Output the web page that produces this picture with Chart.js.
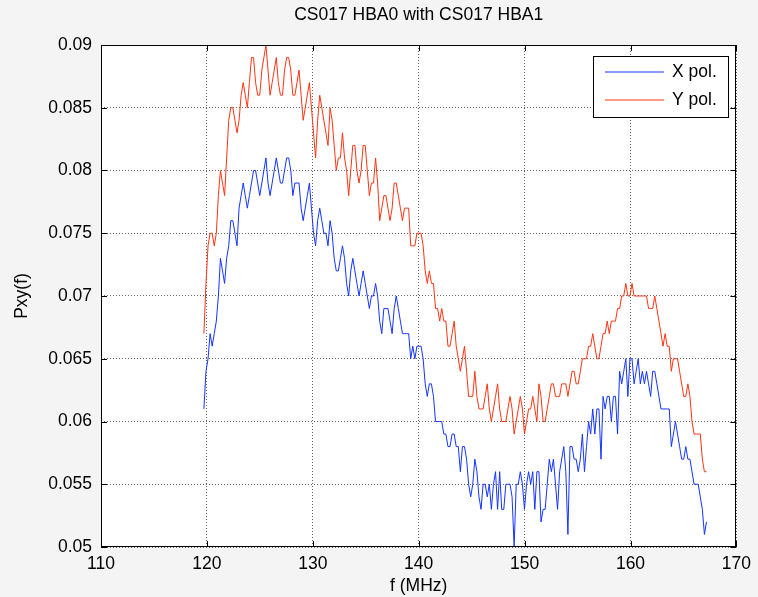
<!DOCTYPE html>
<html>
<head>
<meta charset="utf-8">
<script src="https://cdn.jsdelivr.net/npm/chart.js@4.4.1/dist/chart.umd.min.js"></script>
<style>
    html, body { margin: 0; padding: 0; background: #f4f4f4; }
    #wrap { width: 758px; height: 597px; }
</style>
</head>
<body>
<div id="wrap"><canvas id="chart" width="758" height="597"></canvas></div>
<script>
// subband frequencies (MHz): first subband and spacing
const F_START = 119.717;
const F_STEP = 0.1953;

// Pxy(f), in units of 0.001
const xPol = [
    61,64,65,67,66,67,68,70,73,72,
    71,73,74,76,76,75,74,77,78,79,
    78,77,78,79,80,80,79,78,79,80,
    81,79,78,79,80,81,80,79,79,80,
    81,81,80,78,79,79,79,77,76,77,
    78,79,77,75,74,76,77,76,75,75,
    74,76,75,73,72,72,73,74,73,71,
    70,72,73,72,71,70,71,72,71,70,
    69,70,70,71,70,68,67,69,69,69,
    68,67,69,70,69,68,67,67,67,67,
    65,66,65,66,66,66,65,63,62,63,
    63,62,60,60,60,60,59,59,58,58,
    59,59,58,58,56,58,58,57,55,54,
    55,57,56,54,53,55,55,54,55,53,
    55,56,53,56,53,53,55,55,55,54,
    50,55,55,56,55,53,55,56,55,56,
    53,56,56,52,53,53,55,57,56,57,
    55,53,56,57,58,56,51,58,58,57,
    57,56,57,59,56,58,60,59,61,59,
    61,61,57,62,61,62,62,60,62,62,
    59,64,63,64,65,62,65,65,63,64,
    65,63,64,63,64,63,62,64,64,63,
    62,61,61,61,61,61,58,59,60,59,
    58,57,57,58,57,57,56,55,55,55,
    54,53,51,52
];

const yPol = [
    67,71,74,75,75,74,75,78,80,79,
    78,81,84,85,85,84,83,84,86,87,
    86,85,87,89,89,87,86,86,88,89,
    90,88,86,87,88,89,87,86,86,88,
    89,89,88,86,86,87,88,86,84,85,
    86,87,85,83,81,84,86,85,84,83,
    82,85,84,82,80,81,81,83,81,80,
    78,80,82,82,80,79,80,82,82,80,
    78,79,79,81,79,76,77,78,78,77,
    76,77,79,79,78,77,76,77,77,77,
    74,74,74,75,75,75,74,72,71,72,
    71,71,69,69,68,69,68,68,66,66,
    67,68,66,65,64,65,66,64,62,62,
    62,64,62,61,61,61,62,63,61,60,
    61,62,63,61,60,60,60,61,62,61,
    59,60,61,62,61,59,60,61,61,62,
    61,60,63,62,60,60,61,62,63,63,
    62,62,62,63,63,63,62,63,64,64,
    63,63,64,65,65,65,66,66,67,66,
    65,65,66,67,67,68,67,68,68,68,
    69,69,70,70,71,70,70,71,70,70,
    70,70,70,70,70,69,69,69,70,69,
    68,67,66,67,66,66,64,65,65,65,
    64,63,62,62,63,62,60,59,59,59,
    59,57,56,56
];

const xTicks = [110, 120, 130, 140, 150, 160, 170];
const yTicks = [0.05, 0.055, 0.06, 0.065, 0.07, 0.075, 0.08, 0.085, 0.09];

const TITLE = 'CS017 HBA0 with CS017 HBA1';
const seriesLabels = ['X pol.', 'Y pol.'];
const seriesColors = ['#1434ff', '#ff3412'];

const FONT = '"Liberation Sans", Arial, Helvetica, sans-serif';
const FONT_SIZE = 17.5;

function toPoints(vals) {
    return vals.map((v, i) => ({ x: F_START + i * F_STEP, y: v / 1000 }));
}

// MATLAB style frame: white axes, black box, inward ticks, boxed legend, title over axes
const matlabFrame = {
    id: 'matlabFrame',
    beforeDraw(chart) {
        const { ctx, chartArea: a } = chart;
        ctx.save();
        ctx.fillStyle = '#ffffff';
        ctx.fillRect(a.left, a.top, a.right - a.left, a.bottom - a.top);
        ctx.restore();
    },
    afterDraw(chart) {
        const { ctx, chartArea: a, scales } = chart;
        ctx.save();
        ctx.strokeStyle = '#000';
        ctx.lineWidth = 1;
        ctx.strokeRect(Math.round(a.left) + 0.5, Math.round(a.top) + 0.5,
            Math.round(a.right - a.left) - 1, Math.round(a.bottom - a.top) - 1);

        ctx.beginPath();
        scales.x.ticks.forEach(t => {
            const px = Math.round(scales.x.getPixelForValue(t.value)) + 0.5;
            ctx.moveTo(px, a.bottom); ctx.lineTo(px, a.bottom - 6);
            ctx.moveTo(px, a.top); ctx.lineTo(px, a.top + 6);
        });
        scales.y.ticks.forEach(t => {
            const py = Math.round(scales.y.getPixelForValue(t.value)) + 0.5;
            ctx.moveTo(a.left, py); ctx.lineTo(a.left + 6, py);
            ctx.moveTo(a.right, py); ctx.lineTo(a.right - 6, py);
        });
        ctx.stroke();

        // title, centred over the axes
        ctx.font = FONT_SIZE + 'px ' + FONT;
        ctx.fillStyle = '#000';
        ctx.textAlign = 'center';
        ctx.textBaseline = 'middle';
        ctx.fillText(TITLE, (a.left + a.right) / 2, 15.5);

        // legend
        const bw = 135, bh = 61;
        const bx = Math.round(a.right) - 8 - bw;
        const by = Math.round(a.top) + 11;
        ctx.fillStyle = '#fff';
        ctx.fillRect(bx, by, bw, bh);
        ctx.strokeStyle = '#000';
        ctx.strokeRect(bx + 0.5, by + 0.5, bw, bh);
        ctx.textAlign = 'left';
        seriesLabels.forEach((label, i) => {
            const ly = by + 16 + i * 28;
            ctx.strokeStyle = seriesColors[i];
            ctx.lineWidth = 1.2;
            ctx.beginPath();
            ctx.moveTo(bx + 12, ly);
            ctx.lineTo(bx + 71, ly);
            ctx.stroke();
            ctx.fillStyle = '#000';
            ctx.fillText(label, bx + 79, ly + 0.5);
        });
        ctx.restore();
    }
};

new Chart(document.getElementById('chart'), {
    type: 'line',
    data: {
        datasets: [
            {
                label: seriesLabels[0],
                data: toPoints(xPol),
                borderColor: seriesColors[0],
                borderWidth: 1,
                pointRadius: 0,
                tension: 0
            },
            {
                label: seriesLabels[1],
                data: toPoints(yPol),
                borderColor: seriesColors[1],
                borderWidth: 1,
                pointRadius: 0,
                tension: 0
            }
        ]
    },
    options: {
        responsive: false,
        animation: false,
        devicePixelRatio: 1,
        layout: { padding: { left: 0, right: 21, top: 45, bottom: 0 } },
        plugins: {
            legend: { display: false },
            tooltip: { enabled: false },
            title: { display: false }
        },
        scales: {
            x: {
                type: 'linear',
                min: 110,
                max: 170,
                afterBuildTicks: s => { s.ticks = xTicks.map(v => ({ value: v })); },
                afterFit: s => { s.height = 50; },
                grid: { color: '#666', drawTicks: false },
                border: { display: false, dash: [1, 2] },
                ticks: {
                    color: '#000',
                    padding: 7,
                    maxRotation: 0,
                    font: { family: FONT, size: FONT_SIZE }
                },
                title: {
                    display: true,
                    text: 'f (MHz)',
                    color: '#000',
                    font: { family: FONT, size: FONT_SIZE },
                    padding: { top: 0, bottom: 0 }
                }
            },
            y: {
                min: 0.05,
                max: 0.09,
                afterBuildTicks: s => { s.ticks = yTicks.map(v => ({ value: v })); },
                afterFit: s => { s.width = 101; },
                grid: { color: '#666', drawTicks: false },
                border: { display: false, dash: [1, 2] },
                ticks: {
                    color: '#000',
                    padding: 9,
                    font: { family: FONT, size: FONT_SIZE },
                    callback: v => String(+v.toFixed(3))
                },
                title: {
                    display: true,
                    text: 'Pxy(f)',
                    color: '#000',
                    font: { family: FONT, size: FONT_SIZE },
                    padding: { top: 12, bottom: 0 }
                }
            }
        }
    },
    plugins: [matlabFrame]
});
</script>
</body>
</html>
